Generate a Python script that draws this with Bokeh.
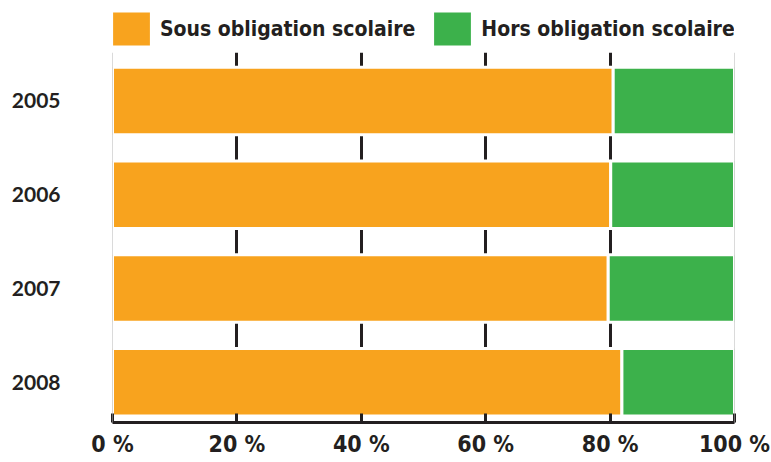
from bokeh.plotting import figure
from bokeh.layouts import column
from bokeh.models import ColumnDataSource, Legend, LegendItem, Span, FixedTicker, Range1d
from bokeh.embed import file_html
from bokeh.resources import INLINE

# ---- data ----
years = ["2005", "2006", "2007", "2008"]
sous = [80.5, 80.1, 79.7, 81.9]
hors = [19.5, 19.9, 20.3, 18.1]
series_labels = ["Sous obligation scolaire", "Hors obligation scolaire"]
x_ticks = [0, 20, 40, 60, 80, 100]
x_tick_labels = ["0 %", "20 %", "40 %", "60 %", "80 %", "100 %"]

ORANGE = "#F8A31E"
GREEN = "#3CB14B"
INK = "#231F20"
COLORS = [ORANGE, GREEN]

ypos = [len(years) - 1 - i for i in range(len(years))]
source = ColumnDataSource(dict(y=ypos, year=years, sous=sous, hors=hors))

# ---------------- main chart ----------------
p = figure(width=771, height=410, output_backend="svg", toolbar_location=None,
           x_range=Range1d(0, 100), y_range=Range1d(-0.43, 3.517),
           min_border_left=112, min_border_right=37, min_border_top=0,
           min_border_bottom=40)
p.outline_line_color = None
p.background_fill_color = "white"

renderers = p.hbar_stack(["sous", "hors"], y="y", height=0.72,
                         fill_color=COLORS, line_color="white",
                         line_width=3, source=source)

# x axis
p.xaxis.ticker = FixedTicker(ticks=x_ticks)
p.xaxis.major_label_overrides = {t: l for t, l in zip(x_ticks, x_tick_labels)}
p.xaxis.axis_line_width = 3
p.xaxis.axis_line_color = INK
p.xaxis.major_tick_in = 9
p.xaxis.major_tick_out = 0
p.xaxis.major_tick_line_width = 3
p.xaxis.major_tick_line_color = INK
p.xaxis.minor_tick_line_color = None
p.xaxis.minor_tick_in = 0
p.xaxis.minor_tick_out = 0
p.xaxis.major_label_standoff = 8
p.xaxis.major_label_text_font = "DejaVu Sans Condensed"
p.xaxis.major_label_text_font_style = "bold"
p.xaxis.major_label_text_font_size = "23px"
p.xaxis.major_label_text_color = INK

# grid
p.xgrid.ticker = FixedTicker(ticks=x_ticks)
p.xgrid.grid_line_color = INK
p.xgrid.grid_line_width = 3
p.ygrid.visible = False

# y axis
p.yaxis.ticker = FixedTicker(ticks=ypos)
p.yaxis.major_label_overrides = {y: yr for y, yr in zip(ypos, years)}
p.yaxis.axis_line_color = None
p.yaxis.major_tick_line_color = None
p.yaxis.minor_tick_line_color = None
p.yaxis.major_tick_in = 0
p.yaxis.major_tick_out = 0
p.yaxis.minor_tick_in = 0
p.yaxis.minor_tick_out = 0
p.yaxis.major_label_standoff = 52
p.yaxis.major_label_text_font = "Lato"
p.yaxis.major_label_text_font_style = "bold"
p.yaxis.major_label_text_font_size = "21px"
p.yaxis.major_label_text_color = INK

# thin grey frame lines at 0 and 100
for loc in (x_ticks[0], x_ticks[-1]):
    p.add_layout(Span(location=loc, dimension="height", line_color="#b5b5b5",
                      line_width=1, level="overlay"))

# ---------------- legend strip ----------------
lg = figure(width=771, height=52, output_backend="svg", toolbar_location=None,
            x_range=Range1d(0, 100), y_range=Range1d(0, 1),
            x_axis_location=None, y_axis_location=None, min_border=0)
lg.outline_line_color = None
lg.xgrid.visible = False
lg.ygrid.visible = False
# same series, hidden in the strip, only used to draw the legend swatches
proxies = lg.hbar_stack(["sous", "hors"], y="y", height=0.72,
                        fill_color=COLORS, line_color=None, source=source)
for r in proxies:
    r.visible = False

legend = Legend(items=[LegendItem(label=series_labels[i], renderers=[proxies[i]])
                       for i in range(len(series_labels))],
                orientation="horizontal", location=(-4, 3), margin=0,
                padding=0, spacing=14, label_standoff=6, glyph_width=46,
                glyph_height=41, border_line_color=None, background_fill_alpha=0,
                inactive_fill_alpha=0,
                label_text_font="DejaVu Sans Condensed", label_text_font_style="bold",
                label_text_font_size="21px", label_text_color=INK)
lg.add_layout(legend, "center")

layout = column(lg, p, spacing=0)
open("out.html", "w").write(file_html(layout, INLINE))
